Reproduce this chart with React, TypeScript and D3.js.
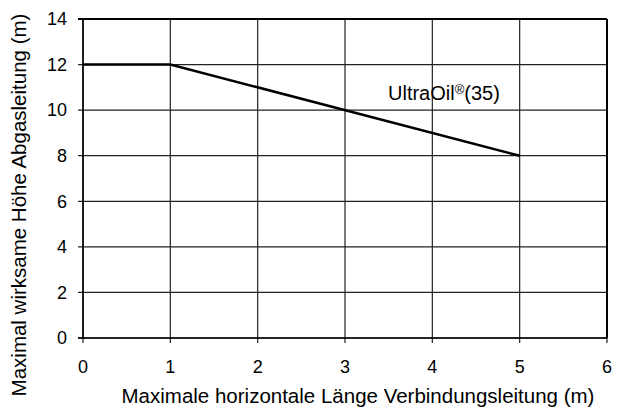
import React from "react";
import * as d3 from "d3";

const xTicks = [0, 1, 2, 3, 4, 5, 6];
const yTicks = [0, 2, 4, 6, 8, 10, 12, 14];
const seriesX = [0, 1, 5];
const seriesY = [12, 12, 8];
const seriesName = "UltraOil";
const xTitle = "Maximale horizontale Länge Verbindungsleitung (m)";
const yTitle = "Maximal wirksame Höhe Abgasleitung (m)";

const W = 618, H = 409;
const left = 83, right = 607, top = 19, bottom = 338;

export default function App() {
  const x = d3.scaleLinear().domain([0, 6]).range([left, right]);
  const y = d3.scaleLinear().domain([0, 14]).range([bottom, top]);
  const line = d3.line<number>().x((_, i) => x(seriesX[i])).y((d) => y(d));
  const font = "'Liberation Sans', Arial, sans-serif";
  return (
    <svg width={W} height={H} style={{ position: "absolute", left: 0, top: 0 }} fontFamily={font}>
      <rect width={W} height={H} fill="#fff" />
      {xTicks.map((t) => (
        <line key={"gx" + t} x1={x(t)} x2={x(t)} y1={top} y2={bottom + 5} stroke="#222" strokeWidth={1.2} />
      ))}
      {yTicks.map((t) => (
        <line key={"gy" + t} x1={left - 5} x2={right} y1={y(t)} y2={y(t)} stroke="#222" strokeWidth={1.2} />
      ))}
      <line x1={left - 5} x2={right} y1={top} y2={top} stroke="#000" strokeWidth={2} />
      <line x1={right} x2={right} y1={top} y2={bottom} stroke="#000" strokeWidth={2} />
      <line x1={left - 5} x2={right} y1={bottom} y2={bottom} stroke="#000" strokeWidth={1.5} />
      <line x1={left} x2={left} y1={top} y2={bottom} stroke="#000" strokeWidth={1.5} />
      <path d={line(seriesY) || ""} fill="none" stroke="#000" strokeWidth={2.5} />
      {yTicks.map((t) => (
        <text key={"ly" + t} x={67} y={y(t)} dy="0.35em" textAnchor="end" fontSize={18} fill="#000">{t}</text>
      ))}
      {xTicks.map((t) => (
        <text key={"lx" + t} x={x(t)} y={373} textAnchor="middle" fontSize={18} fill="#000">{t}</text>
      ))}
      <text x={388} y={100} fontSize={20} fill="#000">
        {seriesName}
        <tspan fontSize={13} dy={-6}>®</tspan>
        <tspan dy={6}>(35)</tspan>
      </text>
      <text x={358} y={403} textAnchor="middle" fontSize={20.5} fill="#000">{xTitle}</text>
      <text transform={`translate(26,205) rotate(-90)`} textAnchor="middle" fontSize={20.5} fill="#000">{yTitle}</text>
    </svg>
  );
}
